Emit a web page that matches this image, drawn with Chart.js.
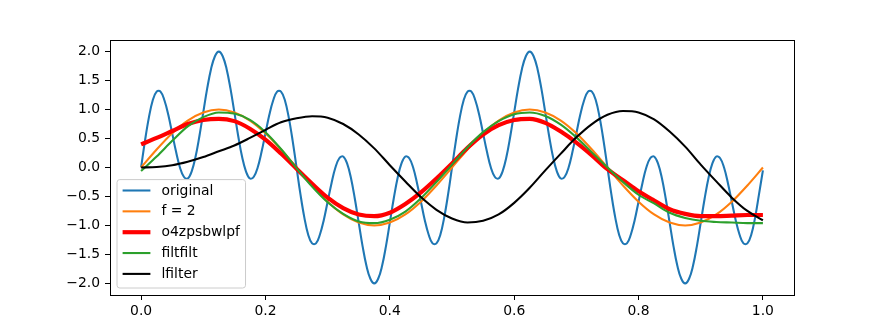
<!DOCTYPE html>
<html>
<head>
<meta charset="utf-8">
<script src="https://cdn.jsdelivr.net/npm/chart.js@4/dist/chart.umd.min.js"></script>
<style>
  body { margin: 0; background: #fff; }
  canvas { display: block; }
</style>
</head>
<body>
<canvas id="chart" width="882" height="331"></canvas>
<script>
// Abtastraster: original fein (1/160), die glatten Kurven grob (1/40)
const fineStep = 0.00625;
const coarseStep = 0.025;

const originalVals = [
	0, 0.46, 0.86, 1.16, 1.31, 1.31, 1.16, 0.91, 0.59, 0.27, 0, -0.16, -0.19, -0.07, 0.18, 0.54, 0.95, 1.36, 1.70, 1.92,
	2.00, 1.92, 1.70, 1.36, 0.95, 0.54, 0.18, -0.07, -0.19, -0.16, 0, 0.27, 0.59, 0.91, 1.16, 1.31, 1.31, 1.16, 0.86, 0.46,
	0, -0.46, -0.86, -1.16, -1.31, -1.31, -1.16, -0.91, -0.59, -0.27, 0, 0.16, 0.19, 0.07, -0.18, -0.54, -0.95, -1.36, -1.70, -1.92,
	-2.00, -1.92, -1.70, -1.36, -0.95, -0.54, -0.18, 0.07, 0.19, 0.16, 0, -0.27, -0.59, -0.91, -1.16, -1.31, -1.31, -1.16, -0.86, -0.46,
	0, 0.46, 0.86, 1.16, 1.31, 1.31, 1.16, 0.91, 0.59, 0.27, 0, -0.16, -0.19, -0.07, 0.18, 0.54, 0.95, 1.36, 1.70, 1.92,
	2.00, 1.92, 1.70, 1.36, 0.95, 0.54, 0.18, -0.07, -0.19, -0.16, 0, 0.27, 0.59, 0.91, 1.16, 1.31, 1.31, 1.16, 0.86, 0.46,
	0, -0.46, -0.86, -1.16, -1.31, -1.31, -1.16, -0.91, -0.59, -0.27, 0, 0.16, 0.19, 0.07, -0.18, -0.54, -0.95, -1.36, -1.70, -1.92,
	-2.00, -1.92, -1.70, -1.36, -0.95, -0.54, -0.18, 0.07, 0.19, 0.16, 0, -0.27, -0.59, -0.91, -1.16, -1.31, -1.31, -1.16, -0.86, -0.46,
	-0.05];

const f2Vals = [0, 0.31, 0.59, 0.81, 0.95, 1.00, 0.95, 0.81, 0.59, 0.31,
	0, -0.31, -0.59, -0.81, -0.95, -1.00, -0.95, -0.81, -0.59, -0.31,
	0, 0.31, 0.59, 0.81, 0.95, 1.00, 0.95, 0.81, 0.59, 0.31,
	0, -0.31, -0.59, -0.81, -0.95, -1.00, -0.95, -0.81, -0.59, -0.31, 0];

const lpfVals = [0.40, 0.51, 0.63, 0.75, 0.82, 0.84, 0.80, 0.67, 0.48, 0.24,
	-0.02, -0.28, -0.52, -0.70, -0.81, -0.84, -0.78, -0.63, -0.43, -0.19,
	0.07, 0.34, 0.57, 0.73, 0.82, 0.84, 0.77, 0.62, 0.43, 0.21,
	-0.03, -0.22, -0.41, -0.57, -0.72, -0.80, -0.84, -0.84, -0.83, -0.82, -0.82];

const filtfiltVals = [-0.06, 0.19, 0.46, 0.71, 0.87, 0.95, 0.93, 0.82, 0.61, 0.32,
	-0.01, -0.33, -0.60, -0.80, -0.93, -0.96, -0.90, -0.76, -0.53, -0.25,
	0.05, 0.35, 0.61, 0.80, 0.92, 0.95, 0.89, 0.74, 0.52, 0.26,
	0.00, -0.25, -0.47, -0.62, -0.78, -0.87, -0.92, -0.94, -0.95, -0.96, -0.96];

const lfilterVals = [0, 0.01, 0.04, 0.10, 0.18, 0.28, 0.38, 0.51, 0.65, 0.78,
	0.85, 0.885, 0.86, 0.75, 0.57, 0.33, 0.04, -0.24, -0.51, -0.73,
	-0.88, -0.95, -0.92, -0.81, -0.61, -0.35, -0.05, 0.24, 0.52, 0.75,
	0.91, 0.975, 0.95, 0.83, 0.62, 0.36, 0.05, -0.24, -0.52, -0.75, -0.91];

const xTicks = [0, 0.2, 0.4, 0.6, 0.8, 1.0];
const yTicks = [-2, -1.5, -1, -0.5, 0, 0.5, 1, 1.5, 2];

const seriesNames = ["original", "f = 2", "o4zpsbwlpf", "filtfilt", "lfilter"];
const seriesColors = ["#1f77b4", "#ff7f0e", "#ff0000", "#2ca02c", "#000000"];
const seriesWidths = [2.08, 2.08, 4.17, 2.08, 2.08];

const FONT = "'DejaVu Sans', sans-serif";

function toPoints(step, ys) {
	return ys.map((y, i) => ({ x: i * step, y: y }));
}

function fmt(v) {
	return (v < 0 ? "\u2212" : "") + Math.abs(v).toFixed(1);
}

// Rahmen und Legende wie bei matplotlib
const frameAndLegend = {
	id: "frameAndLegend",
	afterDraw(chart) {
		const ctx = chart.ctx;
		const a = chart.chartArea;
		ctx.save();
		ctx.strokeStyle = "#000";
		ctx.lineWidth = 1;
		ctx.strokeRect(a.left + 0.5, a.top + 0.5, a.right - a.left, a.bottom - a.top);

		ctx.font = "13.9px " + FONT;
		let textW = 0;
		seriesNames.forEach(n => { textW = Math.max(textW, ctx.measureText(n).width); });
		const bw = 44.5 + textW + 5.6;
		const bh = 108.4;
		const bx = a.left + 7;
		const by = a.bottom - 7 - bh;

		const r = 2.8;
		ctx.beginPath();
		ctx.moveTo(bx + r, by);
		ctx.arcTo(bx + bw, by, bx + bw, by + bh, r);
		ctx.arcTo(bx + bw, by + bh, bx, by + bh, r);
		ctx.arcTo(bx, by + bh, bx, by, r);
		ctx.arcTo(bx, by, bx + bw, by, r);
		ctx.closePath();
		ctx.fillStyle = "rgba(255,255,255,0.8)";
		ctx.fill();
		ctx.strokeStyle = "#cccccc";
		ctx.lineWidth = 1;
		ctx.stroke();

		ctx.textBaseline = "middle";
		ctx.textAlign = "left";
		seriesNames.forEach((name, i) => {
			const cy = by + 10.9 + i * 20.85;
			ctx.beginPath();
			ctx.moveTo(bx + 5.6, cy);
			ctx.lineTo(bx + 33.4, cy);
			ctx.strokeStyle = seriesColors[i];
			ctx.lineWidth = seriesWidths[i];
			ctx.lineCap = "butt";
			ctx.stroke();
			ctx.fillStyle = "#000";
			ctx.fillText(name, bx + 44.5, cy + 0.5);
		});
		ctx.restore();
	}
};

const seriesData = [
	toPoints(fineStep, originalVals),
	toPoints(coarseStep, f2Vals),
	toPoints(coarseStep, lpfVals),
	toPoints(coarseStep, filtfiltVals),
	toPoints(coarseStep, lfilterVals)
];

new Chart(document.getElementById("chart"), {
	type: "line",
	data: {
		datasets: seriesNames.map((name, i) => ({
			label: name,
			data: seriesData[i],
			borderColor: seriesColors[i],
			backgroundColor: seriesColors[i],
			borderWidth: seriesWidths[i],
			pointRadius: 0,
			fill: false,
			// original: weiche Bezier-Kurve, damit die Spitzen rund bleiben
			cubicInterpolationMode: i === 0 ? "default" : "monotone",
			tension: 0.4,
			order: seriesNames.length - i
		}))
	},
	options: {
		responsive: false,
		animation: false,
		devicePixelRatio: 1,
		layout: { padding: { left: 0, top: 40, right: 88, bottom: 0 } },
		scales: {
			x: {
				type: "linear",
				min: -0.05,
				max: 1.05,
				afterBuildTicks: scale => { scale.ticks = xTicks.map(v => ({ value: v })); },
				afterFit: scale => { scale.height = 36; },
				ticks: {
					callback: v => fmt(v),
					color: "#000",
					font: { family: FONT, size: 13.9 },
					padding: 3,
					maxRotation: 0,
					autoSkip: false
				},
				grid: { drawOnChartArea: false, drawTicks: true, tickLength: 5, color: "#000" },
				border: { display: false }
			},
			y: {
				type: "linear",
				min: -2.2,
				max: 2.2,
				afterBuildTicks: scale => { scale.ticks = yTicks.map(v => ({ value: v })); },
				afterFit: scale => { scale.width = 110; },
				ticks: {
					callback: v => fmt(v),
					color: "#000",
					font: { family: FONT, size: 13.9 },
					padding: 5,
					autoSkip: false
				},
				grid: { drawOnChartArea: false, drawTicks: true, tickLength: 5, color: "#000" },
				border: { display: false }
			}
		},
		plugins: {
			legend: { display: false },
			tooltip: { enabled: false }
		}
	},
	plugins: [frameAndLegend]
});
</script>
</body>
</html>
